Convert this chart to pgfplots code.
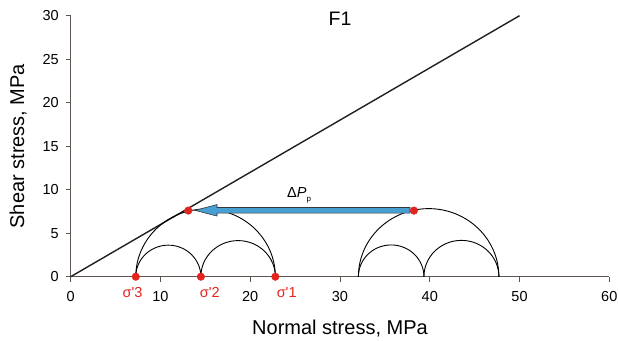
\documentclass[border=0pt]{standalone}
\usepackage{pgfplots}
\pgfplotsset{compat=1.18}
\usepackage{fontspec}
\setmainfont{Liberation Sans}
\newfontfamily\sigfont{Liberation Sans}[Ligatures=TeXOff]
\definecolor{axgray}{RGB}{95,85,80}
\definecolor{mcred}{RGB}{226,35,30}
\definecolor{arrblue}{RGB}{72,160,210}
\definecolor{arredge}{RGB}{50,55,60}
\definecolor{linecol}{RGB}{35,31,32}
\begin{document}
\begin{tikzpicture}
\useasboundingbox (-70.7pt,-63.3pt) rectangle (547.3pt,276.7pt);
\begin{axis}[
  at={(0,0)}, anchor=south west,
  scale only axis, width=538.6pt, height=261pt,
  xmin=0, xmax=60, ymin=0, ymax=30,
  xtick={0,10,...,60}, ytick={0,5,...,30},
  axis lines=left, axis line style={-, color=axgray, line width=0.9pt},
  tick align=outside, major tick length=5pt,
  tick style={color=axgray, line width=0.9pt},
  ticklabel style={font=\fontsize{14.5}{16}\selectfont},
  xticklabel style={yshift=-6pt},
  yticklabel style={xshift=-3.5pt},
  /pgf/number format/assume math mode=true,
  xlabel={Normal stress, MPa}, ylabel={Shear stress, MPa},
  label style={font=\fontsize{20}{24}\selectfont},
  xlabel style={at={(axis description cs:0.5,-0.221)}, anchor=base},
  ylabel style={at={(axis description cs:-0.0867,0.5)}, anchor=base},
  clip=false,
]
% Mohr-Coulomb failure line
\addplot[line width=1.4pt, color=linecol] coordinates {(0,0) (50,30)};
% Mohr circles (upper halves; lower halves clipped at zero shear stress)
\begin{scope}
\clip (axis cs:0,0) rectangle (axis cs:60,30);
\draw[line width=0.9pt, black] (axis cs:15.025,0) ellipse[x radius=7.775, y radius=7.775];
\draw[line width=0.9pt, black] (axis cs:10.875,0) ellipse[x radius=3.625, y radius=3.625];
\draw[line width=0.9pt, black] (axis cs:18.65,0) ellipse[x radius=4.15, y radius=4.15];
\draw[line width=0.9pt, black] (axis cs:39.875,0) ellipse[x radius=7.825, y radius=7.825];
\draw[line width=0.9pt, black] (axis cs:35.7,0) ellipse[x radius=3.65, y radius=3.65];
\draw[line width=0.9pt, black] (axis cs:43.525,0) ellipse[x radius=4.175, y radius=4.175];
\end{scope}
% pore pressure arrow
\addplot[fill=arrblue, draw=arredge, line width=0.6pt] coordinates
  {(37.8,7.95) (16.3,7.95) (16.3,8.29) (13.85,7.63) (16.3,6.97) (16.3,7.31) (37.8,7.31)} -- cycle;
% points
\addplot[only marks, mark=*, mark size=3.8pt, color=mcred] coordinates
  {(7.25,0) (14.5,0) (22.8,0) (13.1,7.6) (38.24,7.6)};
% annotations
\node[anchor=base, text=mcred, font=\sigfont\fontsize{14.5}{16}\selectfont] at (axis cs:6.9,-2.37) {σ'3};
\node[anchor=base, text=mcred, font=\sigfont\fontsize{14.5}{16}\selectfont] at (axis cs:15.5,-2.37) {σ'2};
\node[anchor=base, text=mcred, font=\sigfont\fontsize{14.5}{16}\selectfont] at (axis cs:24.06,-2.37) {σ'1};
\node[anchor=base west, inner sep=0pt, font=\fontsize{14.5}{16}\selectfont] at (axis cs:24.1,9.08)
  {Δ\textit{P}\raisebox{-4pt}{\fontsize{8}{9}\selectfont p}};
\node[anchor=base, font=\fontsize{19.5}{22}\selectfont] at (axis cs:30,28.82) {F1};
\end{axis}
\end{tikzpicture}
\end{document}
